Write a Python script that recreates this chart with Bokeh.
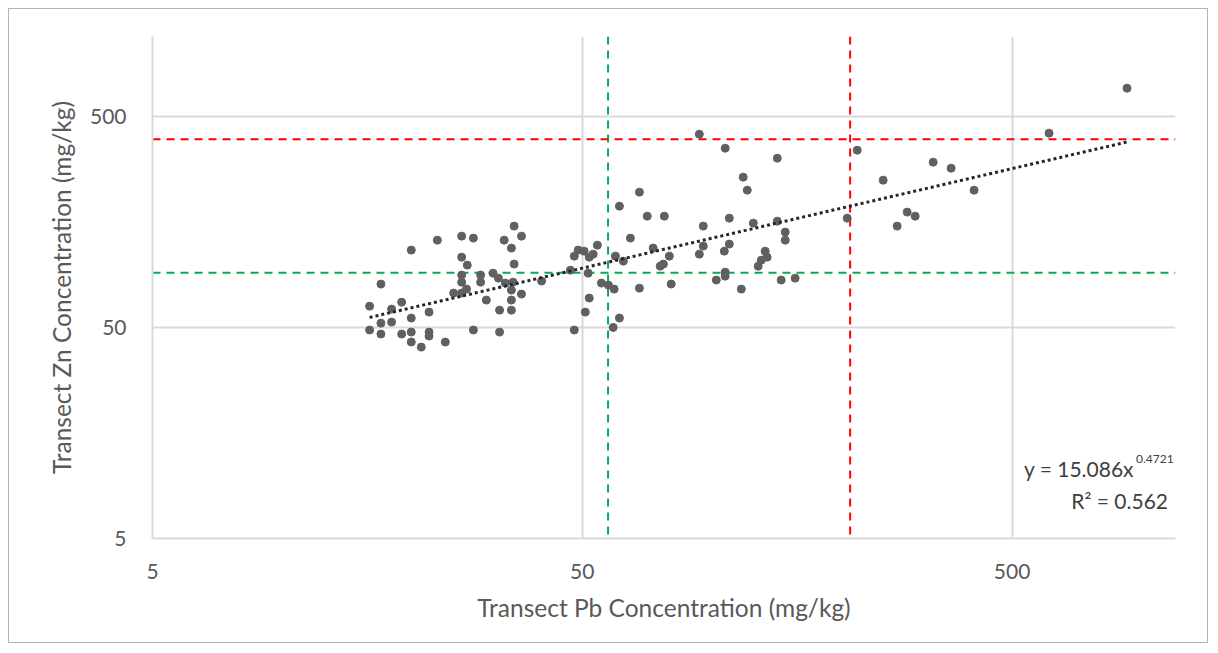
import numpy as np
from bokeh.plotting import figure
from bokeh.models import FixedTicker, Label, Span, ColumnDataSource
from bokeh.embed import file_html
from bokeh.resources import INLINE

# Transect Pb (x) and Zn (y) concentrations, mg/kg
pb = [16.0, 16.0, 17.0, 17.0, 18.0, 18.0, 17.0, 19.0, 19.0, 20.0,
      20.0, 20.0, 20.0, 21.1, 22.0, 22.0, 22.0, 23.0, 24.0, 25.1,
      26.2, 26.2, 26.2, 26.2, 26.2, 26.9, 27.0, 27.9, 27.9, 29.0,
      29.0, 29.9, 31.0, 31.9, 32.1, 32.1, 32.9, 33.1, 34.2, 34.2,
      34.2, 34.2, 34.5, 34.7, 34.7, 36.1, 36.1, 40.2, 47.9, 46.9,
      47.9, 48.9, 50.5, 51.9, 53.0, 54.2, 51.6, 55.4, 57.5, 59.3,
      51.9, 50.8, 61.0, 59.0, 59.7, 62.3, 61.0, 64.7, 67.9, 67.9,
      70.8, 73.1, 75.9, 77.2, 77.6, 79.7, 80.5, 93.6, 95.6, 95.6,
      93.6, 102.5, 107.0, 107.5, 107.5, 107.5, 109.9, 109.9, 117.2, 118.4,
      121.0, 125.0, 128.3, 130.4, 133.2, 134.6, 142.1, 142.1, 148.3, 148.3,
      145.1, 156.4, 206.7, 218.1, 250.6, 270.1, 285.0, 297.5, 327.6, 360.7,
      407.9, 609.5, 925.6]
zn = [63.2, 48.7, 80.4, 52.5, 61.2, 53.1, 46.6, 66.0, 46.6, 116.5,
      55.5, 47.6, 42.7, 40.4, 59.2, 47.6, 45.6, 129.9, 42.7, 72.9,
      135.7, 107.9, 88.7, 82.1, 72.9, 76.1, 98.9, 132.8, 48.7, 88.7,
      82.1, 67.5, 90.6, 85.8, 60.5, 47.6, 129.9, 81.3, 119.1, 75.3,
      67.5, 60.5, 82.1, 151.4, 100.0, 135.7, 72.1, 83.1, 48.7, 93.6,
      109.1, 116.5, 115.2, 107.9, 111.5, 123.0, 90.6, 81.3, 79.5, 76.1,
      69.0, 59.2, 55.5, 50.1, 109.1, 103.3, 188.3, 132.8, 219.4, 76.9,
      168.8, 119.1, 97.8, 100.0, 168.8, 109.1, 80.4, 413.1, 151.4, 121.7,
      111.5, 84.0, 115.2, 91.6, 87.7, 354.5, 165.2, 124.4, 76.1, 258.4,
      224.2, 156.4, 97.8, 104.4, 115.2, 107.9, 317.9, 159.8, 141.8, 129.9,
      84.0, 85.8, 165.2, 346.9, 250.0, 151.4, 176.4, 168.8, 304.3, 285.0,
      224.2, 417.6, 682.5]

# power-law trendline y = a * x^b
trend_a = 15.086
trend_b = 0.4721
eq_text = "y = 15.086x"
eq_exp = "0.4721"
r2_text = "R² = 0.562"

# guideline values
pb_green, pb_red = 57.4, 210.0
zn_green, zn_red = 91.0, 391.0

ticks = [5, 50, 500]
tick_labels = {5: "5", 50: "50", 500: "500"}

FONT = "Lato"
TXT = "#595959"
GRID = "#d9d9d9"

p = figure(width=1200, height=635, x_axis_type="log", y_axis_type="log",
           x_range=(5, 1200), y_range=(5, 1200),
           output_backend="svg", toolbar_location=None,
           min_border_left=143, min_border_top=27, min_border_right=34,
           min_border_bottom=106)
p.styles = {"border": "1px solid #b4b4b4", "margin-left": "8px", "margin-top": "8px"}
p.outline_line_color = None
p.background_fill_color = "white"

for ax, title in ((p.xaxis[0], "Transect Pb Concentration (mg/kg)"),
                  (p.yaxis[0], "Transect Zn Concentration (mg/kg)")):
    ax.ticker = FixedTicker(ticks=ticks, minor_ticks=[])
    ax.major_label_overrides = tick_labels
    ax.axis_label = title
    ax.axis_label_text_font = FONT
    ax.axis_label_text_font_style = "normal"
    ax.axis_label_text_font_size = "24.5px"
    ax.axis_label_text_color = TXT
    ax.major_label_text_font = FONT
    ax.major_label_text_font_size = "21px"
    ax.major_label_text_color = TXT
    ax.axis_line_color = GRID
    ax.axis_line_width = 2
    ax.major_tick_line_color = None
    ax.minor_tick_line_color = None

p.xaxis.major_label_standoff = 19
p.yaxis.major_label_standoff = 20
p.xaxis.axis_label_standoff = 11
p.yaxis.axis_label_standoff = 11

for g in (p.xgrid[0], p.ygrid[0]):
    g.grid_line_color = GRID
    g.grid_line_width = 2

for loc, dim, col in ((pb_green, "height", "#00B050"), (pb_red, "height", "#FF0000"),
                      (zn_green, "width", "#00B050"), (zn_red, "width", "#FF0000")):
    p.add_layout(Span(location=loc, dimension=dim, line_color=col, line_width=2,
                      line_dash="8 6", level="underlay"))

src = ColumnDataSource(dict(pb=pb, zn=zn))
p.scatter("pb", "zn", source=src, size=8, fill_color="#606060", line_color="#606060")

tx = np.geomspace(min(pb), max(pb), 300)
ty = trend_a * tx ** trend_b
p.line(tx, ty, line_color="#262626", line_width=3, line_dash="3 3")

p.add_layout(Label(x=961, y=10.7, text=eq_text, text_align="right", text_baseline="middle",
                   text_font=FONT, text_font_size="21px", text_color="#404040"))
p.add_layout(Label(x=971, y=11.9, text=eq_exp, text_align="left", text_baseline="middle",
                   text_font=FONT, text_font_size="12px", text_color="#404040"))
p.add_layout(Label(x=1153, y=7.6, text=r2_text, text_align="right", text_baseline="middle",
                   text_font=FONT, text_font_size="21px", text_color="#404040"))

open("out.html", "w").write(file_html(p, INLINE))
